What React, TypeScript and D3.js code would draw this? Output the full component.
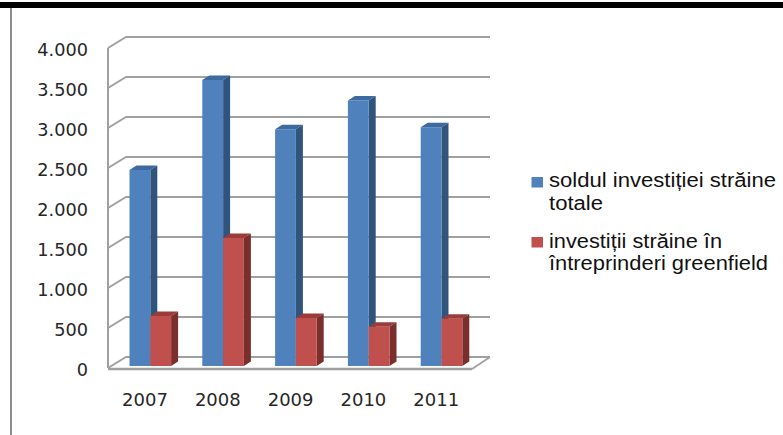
import React from "react";
import * as d3 from "d3";

const categories = ["2007", "2008", "2009", "2010", "2011"];
const totalStock = [2450, 3575, 2960, 3320, 2985];
const greenfield = [625, 1600, 600, 490, 590];
const yTicks = [0, 500, 1000, 1500, 2000, 2500, 3000, 3500, 4000];
const tickLabels = ["0", "500", "1.000", "1.500", "2.000", "2.500", "3.000", "3.500", "4.000"];
const legend1 = ["soldul investiției străine", "totale"];
const legend2 = ["investiții străine în", "întreprinderi greenfield"];

const colors = {
  blue: "#4f81bd", blueTop: "#3f6aa0", blueSide: "#30547c",
  red: "#c0504d", redTop: "#9a3c39", redSide: "#7a2f2d",
  grid: "#a0a0a0", text: "#262626",
};

const y = d3.scaleLinear().domain([0, 4000]).range([368, 48]);
const x = d3.scaleBand<string>().domain(categories).range([111, 475]).paddingInner(0).paddingOuter(0);
const barW = 20.8;
const dx = 7, dy = 4.5;
const depthX = 18, depthY = 11;

function Bar({ left, value, front, top, side }: { left: number; value: number; front: string; top: string; side: string }) {
  const base = y(0) - 2;
  const t = y(value) - 2;
  const r = left + barW;
  return (
    <g>
      <polygon points={`${left},${t} ${left + dx},${t - dy} ${r + dx},${t - dy} ${r},${t}`} fill={top} />
      <polygon points={`${r},${t} ${r + dx},${t - dy} ${r + dx},${base - dy} ${r},${base}`} fill={side} />
      <rect x={left} y={t} width={barW} height={base - t} fill={front} />
    </g>
  );
}

export default function App() {
  const x0 = 108, x1 = 472;
  return (
    <svg width={783} height={435} style={{ position: "absolute", left: 0, top: 0, background: "#fff" }}>
      <rect x={0} y={2} width={783} height={6} fill="#000" />
      <line x1={11} x2={11} y1={8} y2={435} stroke="#8c8c8c" strokeWidth={2} />

      {yTicks.map((t) => (
        <polyline
          key={t}
          points={`${x0},${y(t)} ${x0 + depthX},${y(t) - depthY} ${x1 + depthX},${y(t) - depthY}`}
          fill="none" stroke={colors.grid} strokeWidth={2}
        />
      ))}
      <line x1={x0} x2={x0} y1={y(4000)} y2={y(0)} stroke={colors.grid} strokeWidth={2} />
      <line x1={x0} x2={x1} y1={y(0) + 1} y2={y(0) + 1} stroke={colors.grid} strokeWidth={2.4} />
      <line x1={x1} x2={x1 + depthX} y1={y(0) + 1} y2={y(0) - depthY} stroke={colors.grid} strokeWidth={1.8} />

      {categories.map((c, i) => {
        const left = (x(c) as number) + 18.5;
        return (
          <g key={c}>
            <Bar left={left} value={totalStock[i]} front={colors.blue} top={colors.blueTop} side={colors.blueSide} />
            <Bar left={left + barW} value={greenfield[i]} front={colors.red} top={colors.redTop} side={colors.redSide} />
          </g>
        );
      })}

      {yTicks.map((t, i) => (
        <text key={t} x={88} y={y(t) + 8} textAnchor="end" fontFamily="DejaVu Sans" fontSize={17.7} fill={colors.text}>
          {tickLabels[i]}
        </text>
      ))}
      {categories.map((c) => (
        <text key={c} x={(x(c) as number) + 34} y={406} textAnchor="middle" fontFamily="DejaVu Sans" fontSize={18} fill={colors.text}>
          {c}
        </text>
      ))}

      <rect x={531.5} y={177} width={11.5} height={10.5} fill={colors.blue} />
      <rect x={531.5} y={237} width={11.5} height={10.5} fill={colors.red} />
      <g fontFamily="Liberation Sans" fontSize={20} fill="#111">
        <text x={549} y={187} textLength={227} lengthAdjust="spacingAndGlyphs">{legend1[0]}</text>
        <text x={549} y={210} textLength={54} lengthAdjust="spacingAndGlyphs">{legend1[1]}</text>
        <text x={549} y={248} textLength={173} lengthAdjust="spacingAndGlyphs">{legend2[0]}</text>
        <text x={549} y={270} textLength={219} lengthAdjust="spacingAndGlyphs">{legend2[1]}</text>
      </g>
    </svg>
  );
}
